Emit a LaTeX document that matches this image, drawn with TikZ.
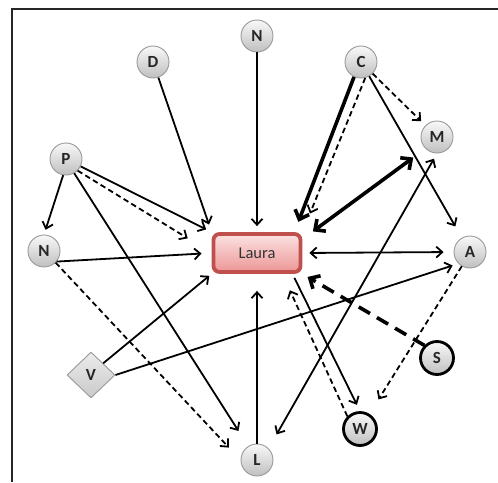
\documentclass[tikz,border=0pt]{standalone}
\usepackage{fontspec}
\setmainfont{Carlito}
\usetikzlibrary{arrows.meta,shapes.geometric,calc}
\definecolor{lauraRed}{RGB}{192,80,77}
\definecolor{lauraTop}{RGB}{252,226,226}
\definecolor{lauraBot}{RGB}{236,150,150}
\begin{document}
\begin{tikzpicture}[x=1pt,y=-1pt,
  circ/.style={circle, minimum size=32pt, inner sep=0pt, draw=gray!80, line width=0.9pt,
    top color=gray!5, bottom color=gray!50, font=\fontsize{17}{17}\selectfont\bfseries, text=black!85},
  boldcirc/.style={circ, draw=black, line width=2.8pt, minimum size=33pt},
  vdiam/.style={diamond, inner sep=0pt, minimum width=48pt, minimum height=46pt, draw=gray!80,
    line width=0.9pt, top color=gray!15, bottom color=gray!42, font=\fontsize{17}{17}\selectfont\bfseries, text=black!85},
  laurabox/.style={rectangle, rounded corners=6pt, minimum width=87pt, minimum height=38pt,
    draw=lauraRed, line width=3.8pt, top color=lauraTop, bottom color=lauraBot,
    font=\fontsize{16.5}{16.5}\selectfont, text=black!80},
  arr/.style={line width=1.8pt, -{Straight Barb[length=6pt,width=11pt]}},
  darr/.style={arr, dash pattern=on 5.5pt off 3.5pt},
  dbl/.style={line width=1.8pt, {Straight Barb[length=6pt,width=11pt]}-{Straight Barb[length=6pt,width=11pt]}},
  thk/.style={line width=3.6pt, -{Straight Barb[length=8pt,width=15pt]}},
  thkdbl/.style={line width=3.6pt, {Straight Barb[length=8pt,width=15pt]}-{Straight Barb[length=8pt,width=15pt]}},
  thkdash/.style={thk, dash pattern=on 13pt off 8pt},
]
\useasboundingbox (0,0) rectangle (498,482);
\draw[line width=2.4pt, black!85] (12,482) -- (12,9) -- (498,9);

\node[laurabox] (Laura) at (257,253) {Laura};
\node[circ] (Nt) at (257,36) {N};
\node[circ] (D) at (153,62) {D};
\node[circ] (C) at (361,62) {C};
\node[circ] (M) at (437,137) {M};
\node[circ] (P) at (66,159) {P};
\node[circ] (Nl) at (44,251) {N};
\node[circ] (A) at (470,252) {A};
\node[vdiam] (V) at (91,375) {V};
\node[boldcirc] (S) at (437,358) {S};
\node[boldcirc] (W) at (360,429) {W};
\node[circ] (L) at (257,460) {L};

% into Laura from top
\draw[arr, shorten >=6pt] (Nt) -- (Laura.north);
\draw[arr, shorten >=8pt] (D) -- (Laura.north west);
\draw[arr, shorten >=6pt] (P) -- (Laura.north west);
\draw[darr, shorten >=28pt] (P.south east) -- (Laura.west);
\draw[arr, shorten >=5pt] (P.-100) -- (Nl.north);
\draw[arr, shorten >=18pt] (P.-60) -- (L);
\draw[arr, shorten >=10pt] (Nl.-40) -- (Laura.west);
\draw[darr, shorten >=17pt] (Nl.-45) -- (L.west);
\draw[arr, shorten >=3pt] (V.north east) -- (Laura.south west);
\draw[arr, shorten >=6pt] (V.east) -- (A.south west);
\draw[arr, shorten >=17pt] (L.north) -- (Laura.south);
\draw[dbl, shorten <=6pt, shorten >=16pt] (M.south) -- (L.north east);

% from C
\draw[thk, shorten >=11pt] (C.-115) -- ($(Laura.north east)+(-8,0)$);
\draw[darr, shorten >=20pt] (C.-75) -- (Laura.north east);
\draw[darr, shorten >=6pt] (C.south east) -- (M.north west);
\draw[arr, shorten >=13pt] (C.-60) -- (A);

% M, A, S, W
\draw[thkdbl, shorten <=15pt, shorten >=13pt] (M.south west) -- ($(Laura.north east)+(0,7)$);
\draw[dbl, shorten <=7pt, shorten >=10pt] (Laura.east) -- (A.west);
\draw[darr, shorten >=17pt] (A.-120) -- (W);
\draw[thkdash, shorten >=6pt] (S.north west) -- (Laura.south east);
\draw[arr, shorten >=7pt] ($(Laura.south east)+(-8,4)$) -- (W.north);
\draw[darr, shorten >=18pt] (W.north west) -- ($(Laura.south east)+(-20,0)$);
\end{tikzpicture}
\end{document}
